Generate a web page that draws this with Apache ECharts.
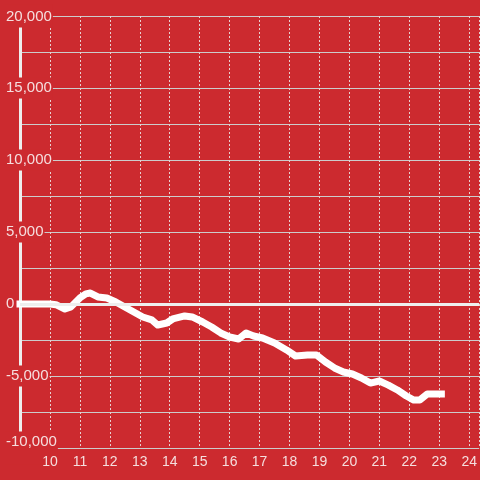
<!DOCTYPE html>
<html>
<head>
<meta charset="utf-8">
<script src="https://cdn.jsdelivr.net/npm/echarts@6/dist/echarts.min.js"></script>
<style>
html,body{margin:0;padding:0;background:#cc2a2f;}
#chart{width:480px;height:480px;}
</style>
</head>
<body>
<div id="chart"></div>
<script>
// x positions (hours) and values
var times = [9.0, 9.5, 10.0, 10.2, 10.5, 10.7, 11.0, 11.2, 11.35, 11.6, 11.9, 12.2, 12.5, 12.8, 13.1, 13.4, 13.6, 13.9, 14.1, 14.5, 14.75, 15.1, 15.4, 15.7, 16.0, 16.3, 16.55, 16.8, 17.1, 17.5, 17.9, 18.2, 18.6, 18.9, 19.2, 19.5, 19.8, 20.1, 20.4, 20.7, 21.0, 21.3, 21.6, 21.9, 22.15, 22.35, 22.6, 23.07];
var values = [0, 0, 0, -50, -350, -200, 420, 700, 760, 490, 420, 140, -210, -560, -900, -1100, -1460, -1320, -1040, -830, -900, -1250, -1600, -2010, -2290, -2430, -2010, -2220, -2360, -2710, -3190, -3610, -3540, -3540, -4030, -4440, -4720, -4860, -5140, -5490, -5350, -5630, -5970, -6390, -6670, -6670, -6250, -6250];
var xTicks = [10, 11, 12, 13, 14, 15, 16, 17, 18, 19, 20, 21, 22, 23, 24];
var yLabels = [-10000, -5000, 0, 5000, 10000, 15000, 20000];

var data = times.map(function (t, i) { return [t, values[i]]; });
var bg = '#cc2a2f';
var txt = '#f5dede';

var chart = echarts.init(document.getElementById('chart'));
chart.setOption({
  backgroundColor: bg,
  animation: false,
  grid: { left: 20, right: 0, top: 16, bottom: 32, containLabel: false },
  xAxis: {
    type: 'value',
    min: 9,
    max: 9 + 460 / 30,
    interval: 1,
    axisLine: { show: false },
    axisTick: { show: false },
    axisLabel: {
      color: txt,
      fontFamily: 'Liberation Sans',
      fontSize: 14,
      margin: 7,
      showMinLabel: false,
      showMaxLabel: false,
      formatter: function (v) { return xTicks.indexOf(v) >= 0 ? String(v) : ''; }
    },
    splitLine: { show: true, lineStyle: { color: '#e8d0d0', width: 1, type: [2, 2] } }
  },
  yAxis: {
    type: 'value',
    min: -10000,
    max: 20000,
    interval: 2500,
    axisLine: { show: true, onZero: false, lineStyle: { color: '#eeeeee', width: 3 } },
    axisTick: { show: false },
    axisLabel: {
      color: txt,
      fontFamily: 'Liberation Sans',
      fontSize: 15,
      align: 'left',
      margin: 15,
      backgroundColor: bg,
      padding: [3, 1, 3, 1],
      rich: {
        m: { fontSize: 15, fontFamily: 'Liberation Sans', color: txt, padding: [0, 0, 12, 0] },
        t: { fontSize: 15, fontFamily: 'Liberation Sans', color: txt, padding: [2, 0, 0, 0] }
      },
      formatter: function (v) {
        if (yLabels.indexOf(v) < 0) return '';
        var s = v.toLocaleString('en-US');
        if (v === -10000) return '{m|' + s + '}';
        if (v === 20000) return '{t|' + s + '}';
        return s;
      }
    },
    splitLine: { show: true, lineStyle: { color: '#cccccc', width: 1 } }
  },
  series: [{
    type: 'line',
    data: data,
    showSymbol: false,
    symbol: 'none',
    lineStyle: { color: '#ffffff', width: 7, cap: 'square', join: 'round' },
    markLine: {
      silent: true,
      symbol: 'none',
      label: { show: false },
      lineStyle: { color: '#eeeeee', width: 3, type: 'solid' },
      data: [{ yAxis: 0 }]
    },
    z: 3
  }]
});
</script>
</body>
</html>
